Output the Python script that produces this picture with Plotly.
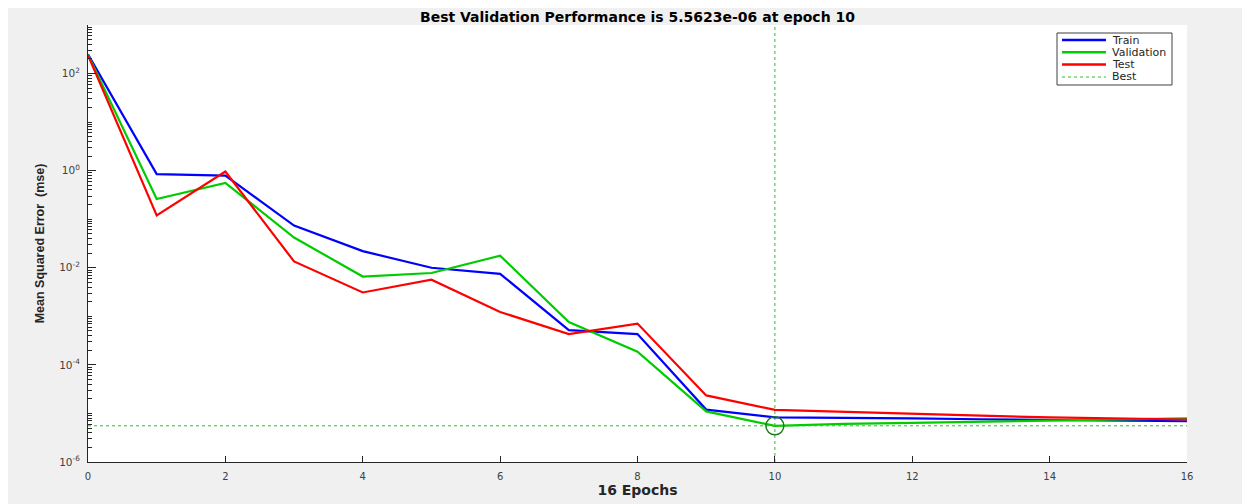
import plotly.graph_objects as go

epochs = list(range(17))
train = [250, 0.85, 0.79, 0.074, 0.022, 0.0100, 0.0075, 5.2e-4, 4.3e-4, 1.2e-5, 8.3e-6,
         8.2e-6, 7.9e-6, 7.6e-6, 7.3e-6, 7.0e-6, 6.9e-6]
validation = [245, 0.26, 0.56, 0.042, 0.0066, 0.0078, 0.0178, 7.6e-4, 1.87e-4, 1.1e-5, 5.5623e-6,
              6.1e-6, 6.4e-6, 6.8e-6, 7.2e-6, 7.6e-6, 7.9e-6]
test = [240, 0.12, 0.96, 0.0135, 0.0031, 0.0057, 0.00123, 4.3e-4, 7.1e-4, 2.35e-5, 1.18e-5,
        1.07e-5, 9.8e-6, 9.0e-6, 8.3e-6, 7.8e-6, 7.5e-6]
best_epoch = 10
best_value = 5.5623e-6
legend_names = ["Train", "Validation", "Test", "Best"]
y_tick_exps = [2, 0, -2, -4, -6]
x_ticks = [0, 2, 4, 6, 8, 10, 12, 14, 16]
Y_LOG_RANGE = [-6, 3]

WIDE = "DejaVu Sans, Verdana, sans-serif"
NARROW = "Liberation Sans, Arial, sans-serif"
C_TRAIN, C_VAL, C_TEST, C_BEST = "#0000ff", "#00cc00", "#ff0000", "#33bb33"

# page offset (default body margin of the html page)
OFF = 8
W, H = 1250, 504
ML, MR, MT, MB = 80, 71, 17, 50
PW, PH = W - ML - MR, H - MT - MB


def px_x(px):
    return (px - OFF - ML) / PW


def px_y(py):
    return (H - MB - (py - OFF)) / PH


fig = go.Figure()
fig.add_trace(go.Scatter(x=epochs, y=train, mode="lines", name="Train", showlegend=False,
                         line=dict(color=C_TRAIN, width=2.2)))
fig.add_trace(go.Scatter(x=epochs, y=validation, mode="lines", name="Validation", showlegend=False,
                         line=dict(color=C_VAL, width=2.2)))
fig.add_trace(go.Scatter(x=epochs, y=test, mode="lines", name="Test", showlegend=False,
                         line=dict(color=C_TEST, width=2.2)))
fig.add_trace(go.Scatter(x=[epochs[0], epochs[-1]], y=[best_value, best_value], mode="lines",
                         name="Best", showlegend=False,
                         line=dict(color=C_BEST, width=1, dash="dot")))
fig.add_trace(go.Scatter(x=[best_epoch], y=[best_value], mode="markers", showlegend=False,
                         marker=dict(symbol="circle-open", size=18, color="#1b7a1b",
                                     line=dict(width=1.5, color="#1b7a1b"))))
fig.add_shape(type="line", xref="x", yref="y domain", x0=best_epoch, x1=best_epoch, y0=0, y1=1,
              line=dict(color=C_BEST, width=1, dash="dot"), layer="below")

# Compact MATLAB-style legend box
fig.add_shape(type="rect", xref="paper", yref="paper",
              x0=px_x(1057), x1=px_x(1172), y0=px_y(85), y1=px_y(33),
              fillcolor="#ffffff", line=dict(color="#404040", width=1), layer="above")
legend_styles = [(C_TRAIN, 2.5, "solid"), (C_VAL, 2.5, "solid"), (C_TEST, 2.5, "solid"), (C_BEST, 1, "dot")]
row_y = [40, 52.3, 64.5, 77]
for name, (col, wdt, dsh), ry in zip(legend_names, legend_styles, row_y):
    fig.add_shape(type="line", xref="paper", yref="paper",
                  x0=px_x(1062), x1=px_x(1106), y0=px_y(ry), y1=px_y(ry),
                  line=dict(color=col, width=wdt, dash=dsh), layer="above")
    fig.add_annotation(text=name, xref="paper", yref="paper", x=px_x(1110), y=px_y(ry),
                       xanchor="left", yanchor="middle", showarrow=False,
                       font=dict(family=WIDE, size=11, color="#262626"))

fig.update_layout(
    width=W, height=H,
    paper_bgcolor="#f0f0f0", plot_bgcolor="#ffffff",
    margin=dict(l=ML, r=MR, t=MT, b=MB, autoexpand=False),
    title=dict(text="<b>Best Validation Performance is %.4e at epoch %d</b>" % (best_value, best_epoch),
               x=(ML + W - MR) / 2 / W, xanchor="center", y=1 - 9 / H, yanchor="middle",
               font=dict(family=WIDE, size=14, color="#000000")),
    showlegend=False,
    font=dict(family=WIDE, size=10, color="#404040"),
)
fig.update_xaxes(range=[epochs[0], epochs[-1]], tickvals=x_ticks, ticks="inside", ticklen=6,
                 tickcolor="#262626", showline=True, linecolor="#262626", linewidth=1,
                 showgrid=False, zeroline=False, mirror=False, automargin=False,
                 ticklabelstandoff=5,
                 tickfont=dict(family=WIDE, size=10, color="#404040"),
                 title=dict(text="<b>%d Epochs</b>" % epochs[-1], standoff=3,
                            font=dict(family=WIDE, size=14, color="#262626")))
fig.update_yaxes(type="log", range=Y_LOG_RANGE,
                 tickvals=[10 ** e for e in y_tick_exps],
                 ticktext=["10<sup>%d</sup>" % e for e in y_tick_exps],
                 ticks="inside", ticklen=8, tickcolor="#262626",
                 minor=dict(ticks="inside", ticklen=4, dtick="D1", tickcolor="#262626", showgrid=False),
                 showline=True, linecolor="#262626", linewidth=1,
                 showgrid=False, zeroline=False, mirror=False, automargin=False,
                 ticklabelstandoff=5,
                 tickfont=dict(family=WIDE, size=10.5, color="#404040"),
                 title=dict(text="<b>Mean Squared Error  (mse)</b>", standoff=11,
                            font=dict(family=NARROW, size=12.5, color="#262626")))

fig.write_html("out.html")
